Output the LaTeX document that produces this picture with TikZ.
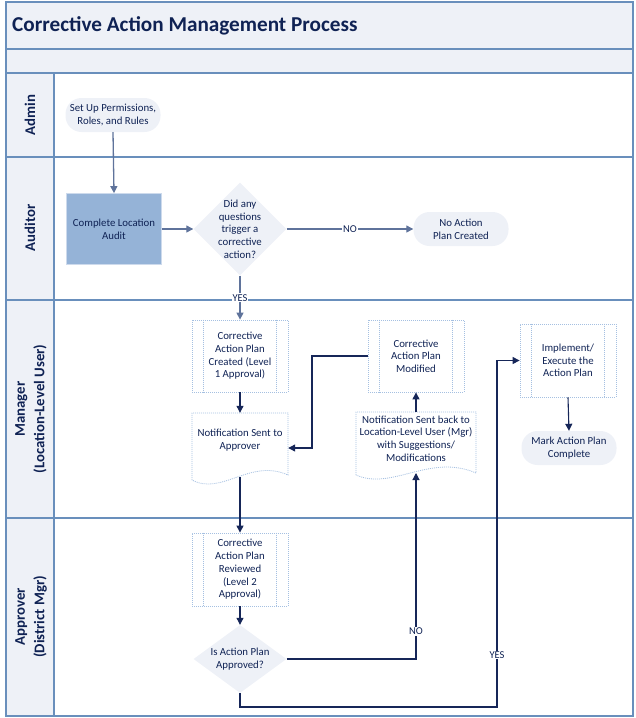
\documentclass[tikz,border=0pt]{standalone}
\usepackage{fontspec}
\setmainfont{Carlito}
\usetikzlibrary{shapes.geometric,arrows.meta,calc}
\definecolor{framec}{RGB}{105,143,188}
\definecolor{lightf}{RGB}{238,241,247}
\definecolor{auditf}{RGB}{149,179,215}
\definecolor{auditb}{RGB}{205,218,236}
\definecolor{dotc}{RGB}{165,192,225}
\definecolor{txtc}{RGB}{15,34,84}
\definecolor{arrdark}{RGB}{22,38,88}
\definecolor{arrslate}{RGB}{95,115,155}
\begin{document}
\begin{tikzpicture}[x=1pt,y=-1pt,
  every node/.style={text=txtc},
  body/.style={font=\fontsize{10.8}{12.7}\selectfont, align=center, inner sep=0pt},
  stadium/.style={body, fill=lightf, rounded corners=16pt, minimum width=95pt, minimum height=34pt},
  predef/.style={body, draw=dotc, dash pattern=on 1pt off 1pt, line width=0.8pt, minimum width=96pt, minimum height=72pt},
  dotbd/.style={draw=dotc, dash pattern=on 1pt off 1pt, line width=0.8pt},
  dia/.style={shape=diamond, fill=lightf, inner sep=0pt, minimum width=93pt},
  blank/.style={inner sep=0pt},
  conn/.style={draw=arrdark, line width=1.1pt, -{Triangle[length=7pt,width=7pt]}},
  connl/.style={draw=arrslate, line width=1.3pt, -{Triangle[length=7pt,width=7pt]}},
  lbl/.style={font=\fontsize{10.5}{11}\selectfont, fill=white, inner sep=1pt},
  lane/.style={font=\bfseries\fontsize{14.8}{19.5}\selectfont, rotate=90, align=center}
]
\useasboundingbox (0,0) rectangle (636,718);
% frame and bands
\fill[lightf] (6,2) rectangle (633,73);
\fill[lightf] (6,73) rectangle (54,716);
\draw[framec, line width=1.5pt] (6,2) rectangle (633,716);
\draw[framec, line width=1.5pt] (6,49) -- (633,49);
\draw[framec, line width=1.5pt] (6,73) -- (633,73);
\draw[framec, line width=1.5pt] (6,157) -- (633,157);
\draw[framec, line width=1.5pt] (6,300) -- (633,300);
\draw[framec, line width=1.5pt] (6,518) -- (633,518);
\draw[framec, line width=1.5pt] (54,73) -- (54,716);
\node[anchor=west, inner sep=0pt, font=\bfseries\fontsize{21.2}{24}\selectfont] (title) at (12,26) {Corrective Action Management Process};
% lane labels
\node[lane] (lA) at (30,115) {Admin};
\node[lane] (lB) at (30,228) {Auditor};
\node[lane] (lC) at (31,409) {Manager\\(Location-Level User)};
\node[lane] (lD) at (31,617) {Approver\\(District Mgr)};
% nodes
\node[stadium] (setup) at (113,115) {Set Up Permissions,\\Roles, and Rules};
\node[body, fill=auditf, draw=auditb, line width=0.8pt, minimum width=95pt, minimum height=71pt] (audit) at (114,229) {Complete Location\\Audit};
\node[dia, minimum height=93pt] (d1) at (240,229) {};
\node[body] (d1t) at (240,229) {Did any\\questions\\trigger a\\corrective\\action?};
\node[stadium] (noact) at (461,229) {No Action\\Plan Created};
\node[predef] (cap1) at (240,356) {Corrective\\Action Plan\\Created (Level\\1 Approval)};
% document 1
\node[blank, minimum width=96pt, minimum height=70pt] (n1) at (240,448) {};
\draw[dotbd] (192,480) -- (192,413) -- (288,413) -- (288,475) .. controls (250,458) and (222,496) .. (192,480);
\node[body] (n1t) at (240,440) {Notification Sent to\\Approver};
\coordinate (n1b) at (240,477);
\node[predef] (mod) at (416,356) {Corrective\\Action Plan\\Modified};
% document 2
\node[blank, minimum width=120pt, minimum height=70pt] (n2) at (416,447) {};
\draw[dotbd] (356,475) -- (356,412) -- (476,412) -- (476,473) .. controls (430,453) and (392,491) .. (356,475);
\node[body] (n2t) at (416,438.5) {Notification Sent back to\\Location-Level User (Mgr)\\with Suggestions/\\Modifications};
\coordinate (n2b) at (416,473);
\node[predef, minimum height=73pt] (impl) at (568,360.5) {Implement/\\Execute the\\Action Plan};
\node[stadium] (mark) at (569,448) {Mark Action Plan\\Complete};
\node[predef, minimum height=73pt] (rev) at (240,569.5) {Corrective\\Action Plan\\Reviewed\\(Level 2\\Approval)};
\node[dia, minimum height=68pt] (d2) at (240,659) {};
\node[body] (d2t) at (240,659) {Is Action Plan\\Approved?};
% inner lines of predefined process
\foreach \n in {cap1,mod,rev,impl}{
  \draw[dotbd] ([xshift=12pt]\n.north west) -- ([xshift=12pt]\n.south west);
  \draw[dotbd] ([xshift=-12pt]\n.north east) -- ([xshift=-12pt]\n.south east);
}
% connectors
\draw[connl] (setup.south) -- (audit.north);
\draw[connl] (audit.east) -- (d1.west);
\draw[connl] (d1.east) -- node[lbl] {NO} (noact.west);
\draw[connl] (d1.south) -- node[lbl] {YES} (cap1.north);
\draw[conn] (cap1.south) -- (n1.north);
\draw[conn] (n1b) -- (rev.north);
\draw[conn] (rev.south) -- (d2.north);
\coordinate (c1) at (416,659);
\draw[conn] (d2.east) -- (c1) -- node[lbl, pos=0.15] {NO} (n2b);
\coordinate (c2) at (240,707);
\coordinate (c3) at (497,707);
\coordinate (c4) at (497,360.5);
\draw[conn] (d2.south) -- (c2) -- (c3) -- node[lbl, pos=0.15] {YES} (c4) -- (impl.west);
\draw[conn] (n2.north) -- (mod.south);
\coordinate (c5) at (312,356);
\coordinate (c6) at (312,448);
\draw[conn] (mod.west) -- (c5) -- (c6) -- (n1.east);
\draw[conn] (impl.south) -- (mark.north);
\end{tikzpicture}
\end{document}
